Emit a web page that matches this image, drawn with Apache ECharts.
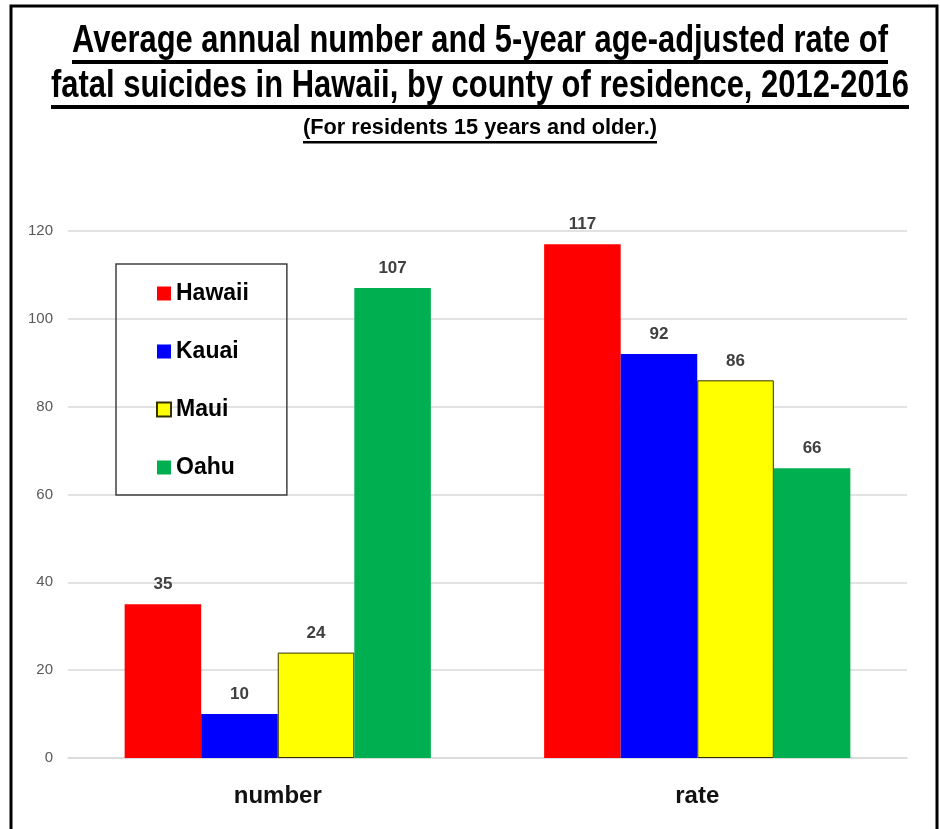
<!DOCTYPE html>
<html>
<head>
<meta charset="utf-8">
<script src="https://cdn.jsdelivr.net/npm/echarts@6/dist/echarts.min.js"></script>
<style>
  html, body { margin: 0; padding: 0; background: #fff; }
  #chart { width: 940px; height: 829px; }
</style>
</head>
<body>
<div id="chart"></div>
<script>
  // values
  var categories = ['number', 'rate'];
  var counties = ['Hawaii', 'Kauai', 'Maui', 'Oahu'];
  var hawaiiValues = [35, 117];
  var kauaiValues = [10, 92];
  var mauiValues = [24, 86];
  var oahuValues = [107, 66];
  var yTicks = [0, 20, 40, 60, 80, 100, 120];

  var titleLines = [
    'Average annual number and 5-year age-adjusted rate of',
    'fatal suicides in Hawaii, by county of residence, 2012-2016'
  ];
  var subtitleText = '(For residents 15 years and older.)';

  var FONT = "'Liberation Sans', Arial, sans-serif";
  var colors = ['#ff0000', '#0000ff', '#ffff00', '#00b050'];
  var seriesValues = [hawaiiValues, kauaiValues, mauiValues, oahuValues];

  // the original uses a condensed face: squeeze the title text to its width
  var measureCtx = document.createElement('canvas').getContext('2d');
  function textWidth(text, size) {
    measureCtx.font = 'bold ' + size + 'px ' + FONT;
    return measureCtx.measureText(text).width;
  }

  function titleText(text, size, baseline, fitWidth, lineH) {
    var w = textWidth(text, size);
    return [
      {
        type: 'text', x: 480, y: baseline - size * 0.36,
        scaleX: fitWidth / w,
        style: {
          x: 0, y: 0,
          text: text, fill: '#000', textAlign: 'center', verticalAlign: 'middle',
          font: 'bold ' + size + 'px ' + FONT
        }
      },
      {
        type: 'rect',
        shape: { x: 480 - fitWidth / 2, y: baseline + 5, width: fitWidth, height: lineH },
        style: { fill: '#000' }
      }
    ];
  }

  var graphics = [
    {
      type: 'rect',
      shape: { x: 11, y: 6, width: 926, height: 900 },
      style: { fill: 'none', stroke: '#000', lineWidth: 3 }
    }
  ]
    .concat(titleText(titleLines[0], 38, 55, 816, 4))
    .concat(titleText(titleLines[1], 38, 100, 858, 4))
    .concat(titleText(subtitleText, 22, 136, 354, 2.5));

  var chart = echarts.init(document.getElementById('chart'));
  chart.setOption({
    animation: false,
    backgroundColor: '#fff',
    graphic: graphics,
    legend: {
      orient: 'vertical',
      left: 116,
      top: 264,
      data: counties,
      icon: 'rect',
      itemWidth: 14,
      itemHeight: 14,
      itemGap: 35,
      padding: [18, 38, 16, 40],
      borderColor: '#404040',
      borderWidth: 1.5,
      textStyle: { color: '#000', fontWeight: 'bold', fontSize: 23, fontFamily: FONT }
    },
    grid: {
      left: 68,
      right: 33,
      top: 231,
      bottom: 71,
      containLabel: false
    },
    xAxis: {
      type: 'category',
      data: categories,
      axisTick: { show: false },
      axisLine: { lineStyle: { color: '#d9d9d9', width: 1.5 } },
      axisLabel: { color: '#111', fontWeight: 'bold', fontSize: 24, fontFamily: FONT, margin: 26 }
    },
    yAxis: {
      type: 'value',
      min: yTicks[0],
      max: yTicks[yTicks.length - 1],
      interval: yTicks[1] - yTicks[0],
      axisLine: { show: false },
      axisTick: { show: false },
      splitLine: { lineStyle: { color: '#d9d9d9', width: 1.5 } },
      axisLabel: { color: '#595959', fontSize: 15, fontFamily: FONT, margin: 15 }
    },
    series: counties.map(function (name, i) {
      return {
        name: name,
        type: 'bar',
        data: seriesValues[i],
        barGap: 0,
        barCategoryGap: '27%',
        itemStyle: {
          color: colors[i],
          borderColor: i === 2 ? '#333300' : colors[i],
          borderWidth: i === 2 ? 1 : 0
        },
        label: {
          show: true,
          position: 'top',
          distance: 11,
          color: '#404040',
          fontWeight: 'bold',
          fontSize: 17,
          fontFamily: FONT
        }
      };
    })
  });
</script>
</body>
</html>
